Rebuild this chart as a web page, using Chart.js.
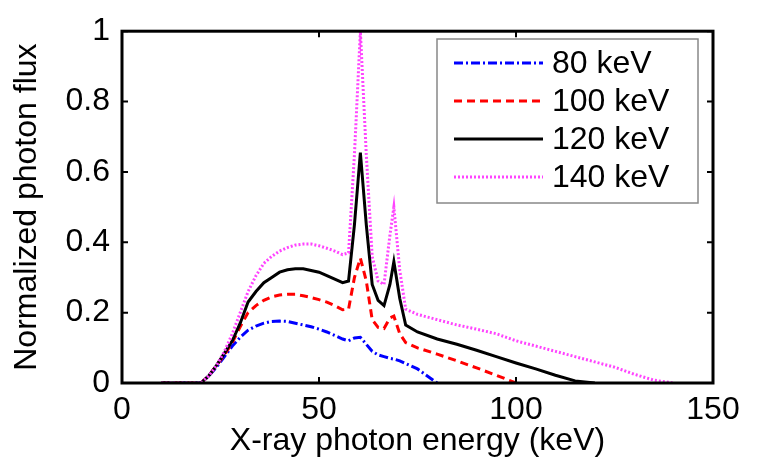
<!DOCTYPE html>
<html lang="en">
<head>
    <meta charset="UTF-8">
    <title>Normalized photon flux</title>
    <script src="https://cdn.jsdelivr.net/npm/chart.js"></script>
    <style>
        html, body {
            margin: 0;
            padding: 0;
            background: #fff;
        }
        #wrap {
            width: 757px;
            height: 464px;
        }
    </style>
</head>
<body>
    <div id="wrap"><canvas id="spectrumChart"></canvas></div>

    <script>
        // photon energy grid (keV)
        const energy = [10, 15, 20, 22, 24, 26, 28, 30, 32, 34, 36, 38, 40, 42, 44, 46, 48, 50, 52, 54, 56, 57.5,
            59, 60.5, 62, 63.5, 65, 66.5, 68, 69, 70.5, 72, 75, 80, 85, 90, 95, 100, 105, 110, 115, 120, 125, 130, 135, 140];

        // normalized flux for each tube voltage (null = beyond the end of that spectrum)
        const flux80 = [0, 0, 0, 0.02, 0.045, 0.075, 0.105, 0.13, 0.15, 0.162, 0.17, 0.175, 0.176, 0.175, 0.17, 0.165, 0.16, 0.153, 0.145, 0.135, 0.125, 0.12,
            0.128, 0.13, 0.11, 0.09, 0.08, 0.075, 0.07, 0.068, 0.063, 0.055, 0.04, 0, null, null, null, null, null, null, null, null, null, null, null, null];
        const flux100 = [0, 0, 0, 0.02, 0.05, 0.08, 0.115, 0.16, 0.2, 0.22, 0.235, 0.245, 0.25, 0.252, 0.252, 0.248, 0.243, 0.237, 0.23, 0.22, 0.208, 0.21,
            0.3, 0.355, 0.29, 0.18, 0.158, 0.155, 0.185, 0.19, 0.14, 0.115, 0.1, 0.082, 0.063, 0.043, 0.022, 0, null, null, null, null, null, null, null, null];
        const flux120 = [0, 0, 0, 0.02, 0.05, 0.085, 0.12, 0.17, 0.23, 0.26, 0.285, 0.3, 0.315, 0.322, 0.325, 0.325, 0.32, 0.315, 0.305, 0.295, 0.285, 0.29,
            0.45, 0.655, 0.45, 0.28, 0.235, 0.22, 0.28, 0.345, 0.24, 0.165, 0.145, 0.125, 0.11, 0.093, 0.075, 0.057, 0.04, 0.022, 0.006, 0, null, null, null, null];
        const flux140 = [0, 0, 0, 0.02, 0.05, 0.09, 0.14, 0.2, 0.26, 0.305, 0.34, 0.36, 0.375, 0.385, 0.392, 0.395, 0.395, 0.39, 0.383, 0.375, 0.365, 0.37,
            0.65, 1.0, 0.65, 0.36, 0.29, 0.28, 0.42, 0.5, 0.32, 0.21, 0.195, 0.18, 0.165, 0.153, 0.14, 0.12, 0.105, 0.09, 0.075, 0.06, 0.045, 0.025, 0.008, 0];

        const seriesLabels = ['80 keV', '100 keV', '120 keV', '140 keV'];
        const xTicks = [0, 50, 100, 150];
        const yTicks = [0, 0.2, 0.4, 0.6, 0.8, 1];

        const FONT = 'Liberation Sans, Arial, sans-serif';
        const FSIZE = 32;

        function toPoints(values) {
            const pts = [];
            values.forEach((v, i) => {
                if (v !== null) pts.push({ x: energy[i], y: v });
            });
            return pts;
        }

        // MATLAB style frame, inward ticks and legend box inside the axes
        const matlabFrame = {
            id: 'matlabFrame',
            afterDatasetsDraw(chart) {
                const { ctx, chartArea: a, scales } = chart;
                ctx.save();
                ctx.strokeStyle = '#000';
                ctx.lineWidth = 3;
                ctx.setLineDash([]);
                ctx.strokeRect(a.left, a.top, a.right - a.left, a.bottom - a.top);

                ctx.lineWidth = 2;
                ctx.beginPath();
                xTicks.forEach(t => {
                    const px = scales.x.getPixelForValue(t);
                    ctx.moveTo(px, a.bottom); ctx.lineTo(px, a.bottom - 6);
                    ctx.moveTo(px, a.top); ctx.lineTo(px, a.top + 6);
                });
                yTicks.forEach(t => {
                    const py = scales.y.getPixelForValue(t);
                    ctx.moveTo(a.left, py); ctx.lineTo(a.left + 6, py);
                    ctx.moveTo(a.right, py); ctx.lineTo(a.right - 6, py);
                });
                ctx.stroke();

                // legend
                const bx = 437, by = 39, bw = 261, bh = 164;
                ctx.fillStyle = '#fff';
                ctx.fillRect(bx, by, bw, bh);
                ctx.strokeStyle = '#888';
                ctx.lineWidth = 1.5;
                ctx.strokeRect(bx, by, bw, bh);

                ctx.font = FSIZE + 'px ' + FONT;
                ctx.textBaseline = 'middle';
                seriesLabels.forEach((label, i) => {
                    const ds = chart.data.datasets.find(d => d.label === label);
                    const y = by + 24 + i * 38;
                    ctx.strokeStyle = ds.borderColor;
                    ctx.lineWidth = ds.borderWidth;
                    ctx.setLineDash(ds.borderDash || []);
                    ctx.beginPath();
                    ctx.moveTo(bx + 17, y);
                    ctx.lineTo(bx + 106, y);
                    ctx.stroke();
                    ctx.setLineDash([]);
                    ctx.fillStyle = '#000';
                    ctx.fillText(label, bx + 115, y + 1);
                });
                ctx.restore();
            }
        };

        const ctx = document.getElementById('spectrumChart').getContext('2d');
        new Chart(ctx, {
            type: 'scatter',
            data: {
                datasets: [
                    {
                        label: seriesLabels[0],
                        data: toPoints(flux80),
                        borderColor: '#0000ff',
                        borderWidth: 3,
                        borderDash: [9, 3, 2, 3]
                    },
                    {
                        label: seriesLabels[1],
                        data: toPoints(flux100),
                        borderColor: '#ff0000',
                        borderWidth: 3,
                        borderDash: [8, 5]
                    },
                    {
                        label: seriesLabels[2],
                        data: toPoints(flux120),
                        borderColor: '#000000',
                        borderWidth: 3,
                        borderDash: []
                    },
                    {
                        label: seriesLabels[3],
                        data: toPoints(flux140),
                        borderColor: '#ff44ff',
                        borderWidth: 3,
                        borderDash: [2, 2]
                    }
                ].map(ds => Object.assign(ds, {
                    showLine: true,
                    pointRadius: 0,
                    tension: 0,
                    fill: false
                })).reverse()
            },
            options: {
                responsive: true,
                maintainAspectRatio: false,
                animation: false,
                layout: {
                    padding: { top: 25, right: 44, left: 0, bottom: 0 }
                },
                plugins: {
                    legend: { display: false },
                    tooltip: { enabled: false }
                },
                scales: {
                    x: {
                        type: 'linear',
                        min: 0,
                        max: 150,
                        afterBuildTicks: s => { s.ticks = xTicks.map(v => ({ value: v })); },
                        afterFit: s => { s.height = 81; },
                        grid: { display: false, drawTicks: false },
                        border: { display: false },
                        ticks: {
                            padding: 8,
                            color: '#000',
                            font: { family: FONT, size: FSIZE }
                        },
                        title: {
                            display: true,
                            text: 'X-ray photon energy (keV)',
                            color: '#000',
                            font: { family: FONT, size: FSIZE },
                            padding: { bottom: 4 }
                        }
                    },
                    y: {
                        type: 'linear',
                        min: 0,
                        max: 1,
                        afterBuildTicks: s => { s.ticks = yTicks.map(v => ({ value: v })); },
                        afterFit: s => { s.width = 122; },
                        grid: { display: false, drawTicks: false },
                        border: { display: false },
                        ticks: {
                            padding: 12,
                            color: '#000',
                            font: { family: FONT, size: FSIZE },
                            callback: v => String(+v.toFixed(1))
                        },
                        title: {
                            display: true,
                            text: 'Normalized photon flux',
                            color: '#000',
                            font: { family: FONT, size: FSIZE },
                            padding: { top: 8 }
                        }
                    }
                }
            },
            plugins: [matlabFrame]
        });
    </script>
</body>
</html>
